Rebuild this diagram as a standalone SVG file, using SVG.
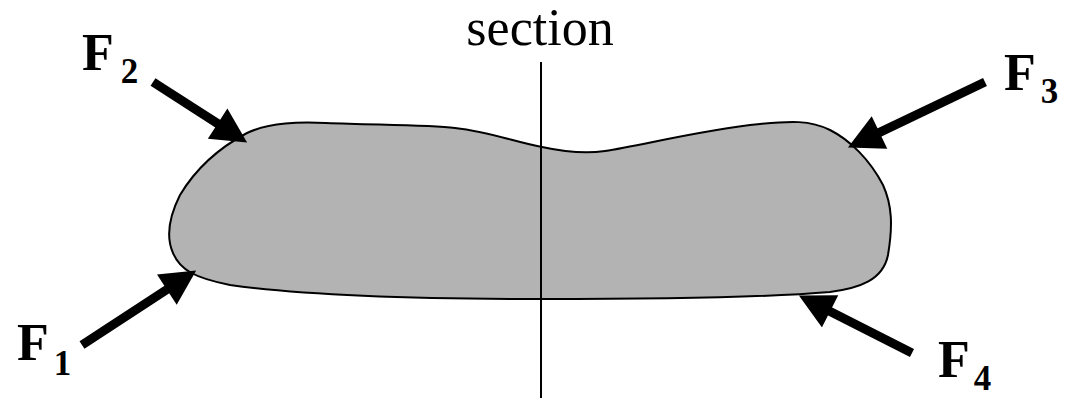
<svg xmlns="http://www.w3.org/2000/svg" width="1068" height="405" viewBox="0 0 1068 405">
<style>
.body{fill:#b3b3b3;stroke:#000;stroke-width:2}
.arr{stroke:#000;stroke-width:9;fill:none;marker-end:url(#ah)}
.lbl{font-family:"Liberation Serif","Times New Roman",serif;font-weight:bold;fill:#000}
.main{font-size:52px}
.sub{font-size:35px}
.sec{font-family:"Liberation Serif","Times New Roman",serif;font-size:52px;fill:#000}
</style>
<defs>
<marker id="ah" markerUnits="userSpaceOnUse" markerWidth="36" markerHeight="36" viewBox="0 0 35 36" refX="1" refY="18" orient="auto">
<path d="M0,0 L35,18 L0,36 Z" fill="#000"/>
</marker>
</defs>
<g id="body">
<path class="body" d="M 247,133 C 270,122 300,122 326,123 C 380,125 430,125 455,128 C 490,132 515,142 542,147 C 565,152 585,154 605,151 C 640,146 700,130 760,124 C 790,121 810,120 830,130 C 850,140 870,160 883,185 C 892,205 893,225 888,255 C 883,280 860,288 830,292 C 760,298 650,299 542,299 C 420,299 300,295 230,285 C 195,278 180,270 173,253 C 165,235 170,215 180,195 C 195,170 215,150 247,133 Z"/>
</g>
<g id="section">
<line x1="541" y1="62" x2="541" y2="398" stroke="#000" stroke-width="2"/>
<text class="sec" x="540" y="45" text-anchor="middle">section</text>
</g>
<g id="connectors">
<line class="arr" x1="153" y1="82" x2="218.5" y2="124.1"/>
<line class="arr" x1="985" y1="82" x2="878.6" y2="132.9"/>
<line class="arr" x1="82" y1="345" x2="167.7" y2="289.1"/>
<line class="arr" x1="912" y1="353" x2="829.2" y2="310.9"/>
</g>
<g id="F1"><text class="lbl" x="17" y="360"><tspan class="main">F</tspan><tspan class="sub" dx="5" dy="15">1</tspan></text></g>
<g id="F2"><text class="lbl" x="82" y="70"><tspan class="main">F</tspan><tspan class="sub" dx="7" dy="13">2</tspan></text></g>
<g id="F3"><text class="lbl" x="1004" y="90"><tspan class="main">F</tspan><tspan class="sub" dx="5" dy="13">3</tspan></text></g>
<g id="F4"><text class="lbl" x="938" y="377"><tspan class="main">F</tspan><tspan class="sub" dx="4" dy="13">4</tspan></text></g>
</svg>
